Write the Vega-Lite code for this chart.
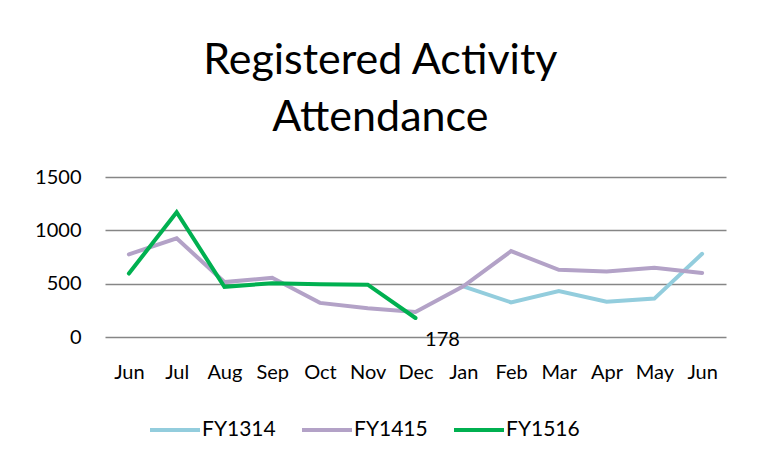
{
  "$schema": "https://vega.github.io/schema/vega-lite/v6.json",
  "width": 621,
  "height": 160,
  "autosize": {"type": "none"},
  "padding": {"left": 105, "top": 177, "right": 34, "bottom": 126},
  "background": "white",
  "config": {"view": {"stroke": null}, "font": "Lato"},
  "title": {
    "text": ["Registered Activity", "Attendance"],
    "fontSize": 43,
    "font": "Lato",
    "fontWeight": "normal",
    "color": "black",
    "anchor": "middle",
    "frame": "bounds",
    "lineHeight": 57,
    "offset": 27
  },
  "data": {
    "values": [
      {"idx": 8, "series": "FY1314", "value": 475},
      {"idx": 9, "series": "FY1314", "value": 325},
      {"idx": 10, "series": "FY1314", "value": 430},
      {"idx": 11, "series": "FY1314", "value": 330},
      {"idx": 12, "series": "FY1314", "value": 360},
      {"idx": 13, "series": "FY1314", "value": 780},
      {"idx": 1, "series": "FY1415", "value": 775},
      {"idx": 2, "series": "FY1415", "value": 925},
      {"idx": 3, "series": "FY1415", "value": 515},
      {"idx": 4, "series": "FY1415", "value": 555},
      {"idx": 5, "series": "FY1415", "value": 320},
      {"idx": 6, "series": "FY1415", "value": 270},
      {"idx": 7, "series": "FY1415", "value": 235},
      {"idx": 8, "series": "FY1415", "value": 475},
      {"idx": 9, "series": "FY1415", "value": 805},
      {"idx": 10, "series": "FY1415", "value": 630},
      {"idx": 11, "series": "FY1415", "value": 615},
      {"idx": 12, "series": "FY1415", "value": 650},
      {"idx": 13, "series": "FY1415", "value": 600},
      {"idx": 1, "series": "FY1516", "value": 595},
      {"idx": 2, "series": "FY1516", "value": 1170},
      {"idx": 3, "series": "FY1516", "value": 470},
      {"idx": 4, "series": "FY1516", "value": 505},
      {"idx": 5, "series": "FY1516", "value": 495},
      {"idx": 6, "series": "FY1516", "value": 490},
      {"idx": 7, "series": "FY1516", "value": 178}
    ]
  },
  "encoding": {
    "x": {
      "field": "idx",
      "type": "ordinal",
      "sort": "ascending",
      "scale": {"type": "point", "padding": 0.5, "domain": [1,2,3,4,5,6,7,8,9,10,11,12,13]},
      "axis": {
        "title": null,
        "labelAngle": 0,
        "labelExpr": "['Jun','Jul','Aug','Sep','Oct','Nov','Dec','Jan','Feb','Mar','Apr','May','Jun'][datum.value-1]",
        "labelFontSize": 20,
        "labelColor": "black",
        "labelPadding": 25,
        "ticks": false,
        "domain": false,
        "grid": false
      }
    },
    "y": {
      "field": "value",
      "type": "quantitative",
      "scale": {"domain": [0, 1500]},
      "axis": {
        "title": null,
        "values": [0, 500, 1000, 1500],
        "format": "d",
        "labelFontSize": 20,
        "labelColor": "black",
        "labelPadding": 24,
        "ticks": false,
        "domain": false,
        "grid": true,
        "gridColor": "#868686",
        "gridWidth": 1.5
      }
    }
  },
  "layer": [
    {
      "mark": {"type": "line", "strokeCap": "round", "strokeJoin": "miter"},
      "encoding": {
        "color": {
          "field": "series",
          "type": "nominal",
          "scale": {"domain": ["FY1314", "FY1415", "FY1516"], "range": ["#93CDDD", "#B3A2C7", "#00B050"]},
          "legend": {
            "title": null,
            "orient": "none",
            "direction": "horizontal",
            "legendX": 43,
            "legendY": 226,
            "symbolType": "stroke",
            "symbolSize": 2500,
            "symbolStrokeWidth": 5,
            "labelFontSize": 21,
            "labelColor": "black",
            "labelOffset": 0,
            "columnPadding": 18,
            "labelLimit": 200
          }
        },
        "strokeWidth": {
          "field": "series",
          "type": "nominal",
          "scale": {"domain": ["FY1314", "FY1415", "FY1516"], "range": [4, 4, 5.5]},
          "legend": null
        }
      }
    },
    {
      "transform": [{"filter": "datum.series == 'FY1516' && datum.idx == 7"}],
      "mark": {"type": "text", "fontSize": 20, "color": "black", "dx": 27, "dy": 22, "font": "Lato"},
      "encoding": {"text": {"field": "value", "type": "quantitative"}}
    }
  ]
}
